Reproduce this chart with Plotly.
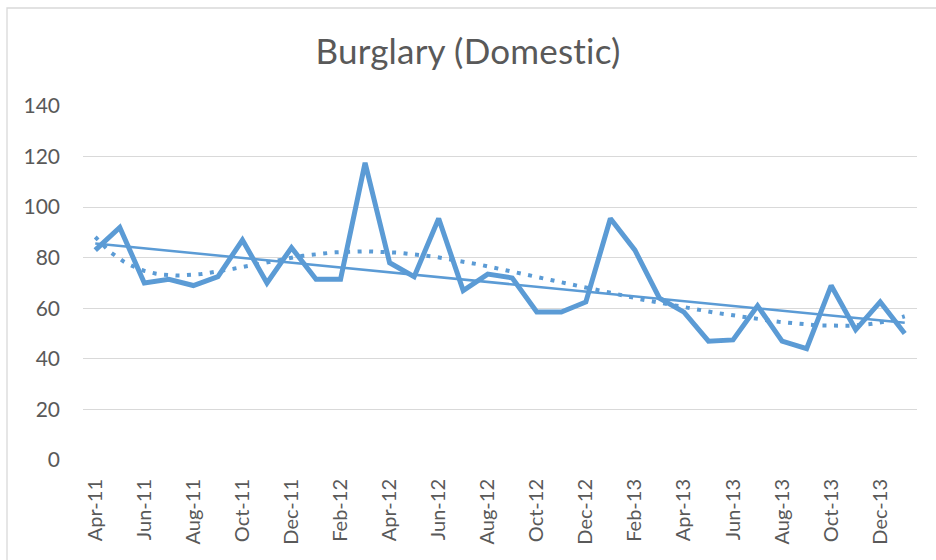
import numpy as np
import plotly.graph_objects as go

months = ["Apr-11","May-11","Jun-11","Jul-11","Aug-11","Sep-11","Oct-11","Nov-11","Dec-11",
          "Jan-12","Feb-12","Mar-12","Apr-12","May-12","Jun-12","Jul-12","Aug-12","Sep-12",
          "Oct-12","Nov-12","Dec-12","Jan-13","Feb-13","Mar-13","Apr-13","May-13","Jun-13",
          "Jul-13","Aug-13","Sep-13","Oct-13","Nov-13","Dec-13","Jan-14"]
burglary = [83, 92, 70, 71.5, 69, 72.5, 87, 70, 84,
            71.5, 71.5, 117.5, 78, 72.5, 95.5, 67, 73.5, 72,
            58.5, 58.5, 62.5, 95.5, 83, 64, 58.5, 47, 47.5,
            61, 47, 44, 69, 51.5, 62.5, 50]
y_ticks = [0, 20, 40, 60, 80, 100, 120, 140]

LINE = "#5B9BD5"
GRID = "#D9D9D9"
TXT = "#595959"

x = np.arange(len(months))
yv = np.array(burglary, dtype=float)
xf = x + 1.0
lin = np.polyval(np.polyfit(xf, yv, 1), xf)
xs = np.linspace(0, len(months) - 1, 200)
polys = np.polyval(np.polyfit(xf, yv, 6), xs + 1.0)

fig = go.Figure()
fig.add_trace(go.Scatter(x=x, y=yv, mode="lines", line=dict(color=LINE, width=5), name="Burglary"))
fig.add_trace(go.Scatter(x=x, y=lin, mode="lines", line=dict(color=LINE, width=2.5), name="Linear"))
fig.add_trace(go.Scatter(x=xs, y=polys, mode="lines",
                         line=dict(color=LINE, width=4, dash="4px,7.5px"), name="Poly"))

W, H = 936, 560
L, R, T, B = 83, 19, 106, 100
pw, ph = W - L - R, H - T - B

def px2paper_x(p):
    return (p - L) / pw

def px2paper_y(p):
    return (H - B - p) / ph

fig.add_shape(type="rect", xref="paper", yref="paper",
              x0=px2paper_x(7), x1=px2paper_x(945), y0=px2paper_y(570), y1=px2paper_y(8),
              line=dict(color=GRID, width=1.3), fillcolor="rgba(0,0,0,0)", layer="below")

title_text = '<span style="letter-spacing:0.2px">Burglary (Domestic)</span>'

fig.update_layout(
    width=W, height=H,
    margin=dict(l=L, r=R, t=T, b=B),
    paper_bgcolor="white", plot_bgcolor="white",
    showlegend=False,
    title=dict(text=title_text, x=0.5, xanchor="center", y=1 - 52 / H, yanchor="middle",
               font=dict(family="Lato, Open Sans, sans-serif", size=35, color=TXT)),
    font=dict(family="Lato, Open Sans, sans-serif", color=TXT),
)
fig.update_xaxes(range=[-0.5, len(months) - 0.5], tickmode="array",
                 tickvals=list(x[::2]), ticktext=months[::2], tickangle=-90,
                 showgrid=False, zeroline=False, showline=False, ticks="",
                 tickfont=dict(size=20, color=TXT), ticklabelstandoff=14)
fig.update_yaxes(range=[0, 140], tickmode="array", tickvals=y_ticks,
                 showgrid=True, gridcolor=GRID, gridwidth=1.3, zeroline=False, showline=False,
                 ticks="", tickfont=dict(size=21, color=TXT), ticklabelstandoff=22)

fig.write_html("out.html", config={"displayModeBar": False},
               post_script="document.body.style.margin='0';")
